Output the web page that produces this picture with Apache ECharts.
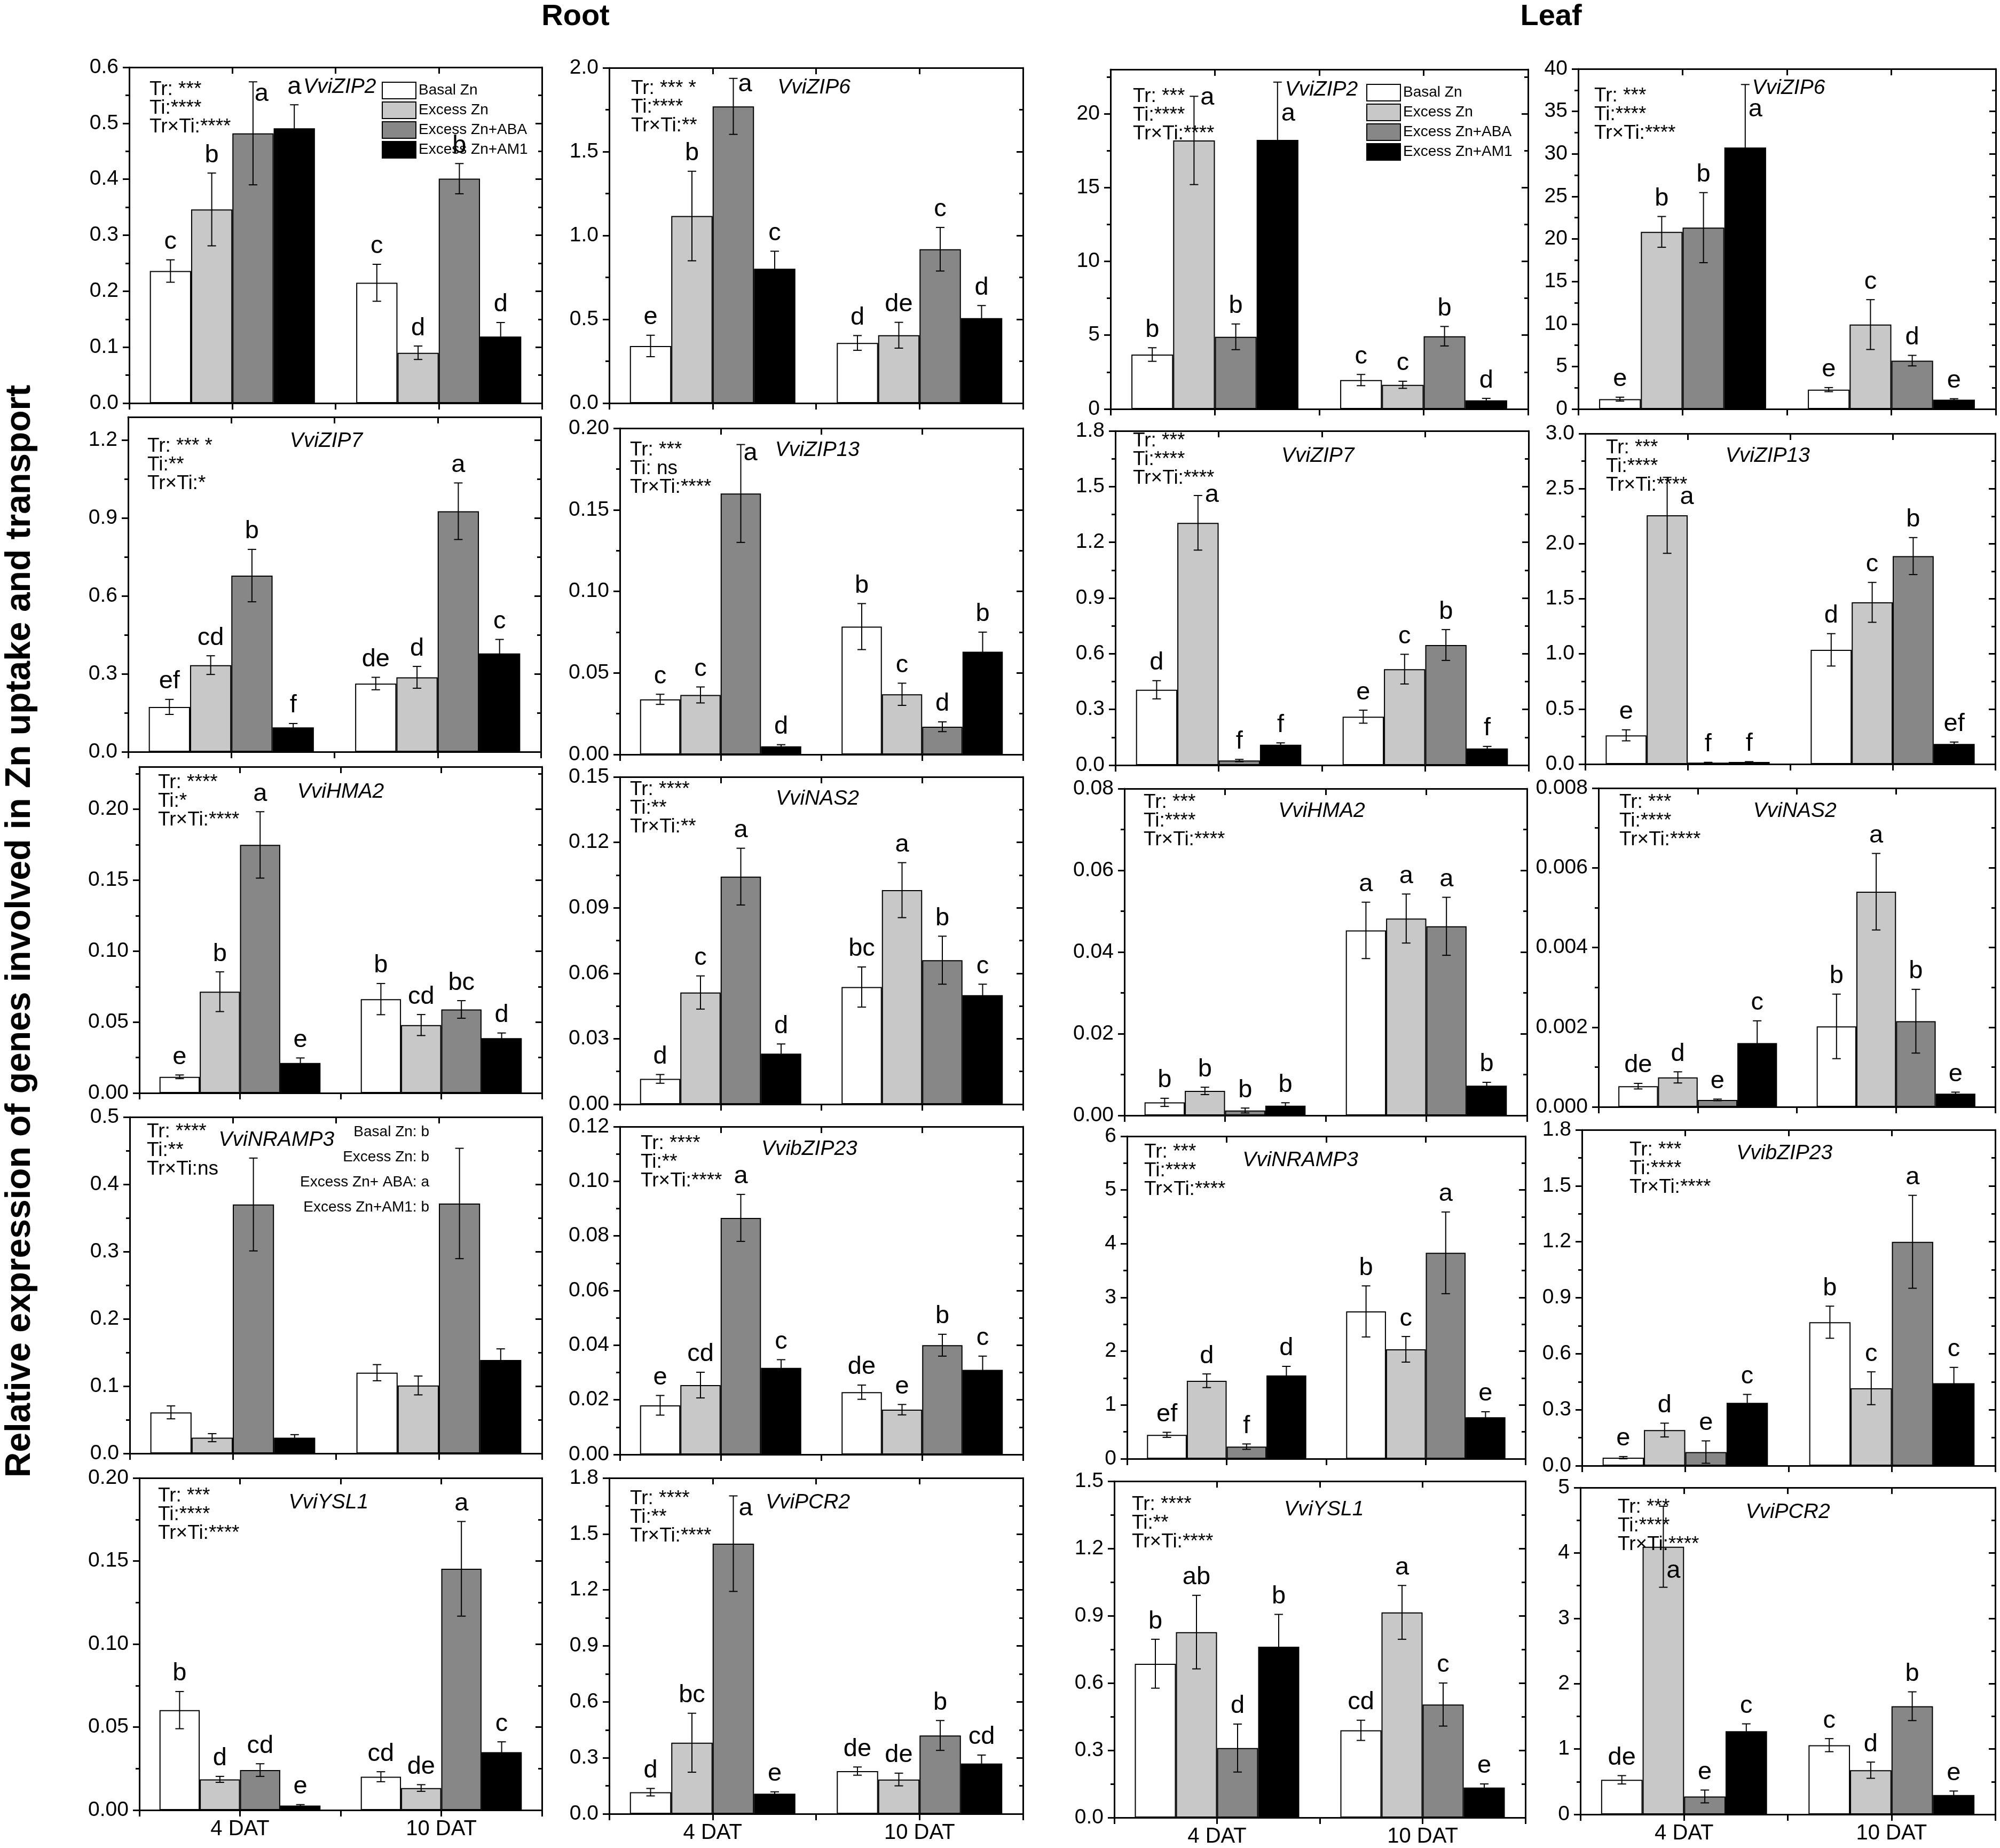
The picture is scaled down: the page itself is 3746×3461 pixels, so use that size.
<!DOCTYPE html>
<html>
<head>
<meta charset="utf-8">
<script src="https://cdn.jsdelivr.net/npm/echarts@6/dist/echarts.min.js"></script>
<style>
  html, body { margin: 0; padding: 0; background: #fff; }
  #chart { width: 3746px; height: 3461px; }
</style>
</head>
<body>
<div id="chart"></div>
<script>
const FONT = '"Liberation Sans", Arial, sans-serif';
const TREATMENTS = ["Basal Zn", "Excess Zn", "Excess Zn+ABA", "Excess Zn+AM1"];
const COLORS = ["#ffffff", "#c8c8c8", "#878787", "#000000"];
const DAYS = ["4 DAT", "10 DAT"];

// panels in reading order: root, root, leaf, leaf on each row
const genes = [
    "VviZIP2", "VviZIP6", "VviZIP2", "VviZIP6",
    "VviZIP7", "VviZIP13", "VviZIP7", "VviZIP13",
    "VviHMA2", "VviNAS2", "VviHMA2", "VviNAS2",
    "VviNRAMP3", "VvibZIP23", "VviNRAMP3", "VvibZIP23",
    "VviYSL1", "VviPCR2", "VviYSL1", "VviPCR2",
];

// means per panel: [4 DAT, 10 DAT]
const basalZn = [
    [0.236, 0.215], [0.341, 0.359], [3.69, 1.96], [1.16, 2.28],
    [0.173, 0.263], [0.0338, 0.0784], [0.406, 0.261], [0.261, 1.037],
    [0.0114, 0.0662], [0.0116, 0.0537], [0.0032, 0.0453], [0.00052, 0.00202],
    [0.061, 0.120], [0.0180, 0.0228], [0.445, 2.741], [0.043, 0.769],
    [0.0602, 0.0201], [0.116, 0.229], [0.686, 0.389], [0.529, 1.059],
];
const excessZn = [
    [0.346, 0.090], [1.116, 0.405], [18.19, 1.64], [20.83, 9.93],
    [0.334, 0.287], [0.0365, 0.0369], [1.305, 0.517], [2.258, 1.468],
    [0.0714, 0.0479], [0.0512, 0.0981], [0.0060, 0.0482], [0.00074, 0.0054],
    [0.0234, 0.101], [0.0254, 0.0164], [1.451, 2.036], [0.191, 0.415],
    [0.0185, 0.0133], [0.381, 0.184], [0.827, 0.915], [4.095, 0.676],
];
const excessZnAba = [
    [0.482, 0.401], [1.770, 0.918], [4.89, 4.93], [21.33, 5.69],
    [0.679, 0.927], [0.160, 0.0170], [0.025, 0.647], [0.013, 1.888],
    [0.1749, 0.0589], [0.1043, 0.0660], [0.0012, 0.0463], [0.000175, 0.00215],
    [0.370, 0.3715], [0.0866, 0.0400], [0.225, 3.831], [0.073, 1.200],
    [0.0241, 0.1453], [1.448, 0.420], [0.310, 0.504], [0.274, 1.655],
];
const excessZnAm1 = [
    [0.491, 0.119], [0.802, 0.507], [18.23, 0.59], [30.76, 1.10],
    [0.094, 0.379], [0.0050, 0.0630], [0.110, 0.090], [0.019, 0.183],
    [0.0212, 0.0387], [0.0232, 0.0500], [0.0024, 0.0073], [0.0016, 0.00033],
    [0.0234, 0.1389], [0.0317, 0.0310], [1.549, 0.772], [0.337, 0.442],
    [0.0027, 0.0349], [0.108, 0.270], [0.762, 0.134], [1.273, 0.297],
];

// error bar half lengths, same layout
const basalErr = [
    [0.020, 0.033], [0.064, 0.044], [0.46, 0.38], [0.23, 0.24],
    [0.029, 0.024], [0.0031, 0.0141], [0.049, 0.035], [0.050, 0.147],
    [0.0013, 0.011], [0.0020, 0.0092], [0.0010, 0.0069], [0.00007, 0.00081],
    [0.0096, 0.012], [0.0036, 0.0026], [0.047, 0.475], [0.006, 0.086],
    [0.0112, 0.0030], [0.020, 0.022], [0.109, 0.045], [0.064, 0.100],
];
const excessErr = [
    [0.065, 0.012], [0.267, 0.077], [2.99, 0.24], [1.81, 2.93],
    [0.036, 0.042], [0.0049, 0.0068], [0.147, 0.080], [0.345, 0.181],
    [0.0140, 0.0074], [0.0076, 0.0126], [0.0009, 0.0060], [0.00014, 0.00096],
    [0.0060, 0.014], [0.0047, 0.0019], [0.127, 0.238], [0.037, 0.088],
    [0.0018, 0.0020], [0.158, 0.034], [0.164, 0.120], [0.62, 0.124],
];
const abaErr = [
    [0.092, 0.027], [0.167, 0.130], [0.87, 0.66], [4.12, 0.62],
    [0.101, 0.109], [0.030, 0.0030], [0.006, 0.083], [0.003, 0.168],
    [0.0234, 0.0062], [0.0130, 0.0110], [0.0006, 0.0071], [0.00002, 0.00080],
    [0.069, 0.082], [0.0086, 0.0040], [0.050, 0.760], [0.060, 0.249],
    [0.0038, 0.0285], [0.256, 0.080], [0.107, 0.096], [0.098, 0.220],
];
const am1Err = [
    [0.042, 0.025], [0.104, 0.075], [3.91, 0.13], [7.40, 0.11],
    [0.015, 0.054], [0.0010, 0.012], [0.010, 0.011], [0.003, 0.017],
    [0.0035, 0.0036], [0.0044, 0.0050], [0.0007, 0.0008], [0.00056, 0.00004],
    [0.0045, 0.0165], [0.0030, 0.0050], [0.170, 0.102], [0.045, 0.085],
    [0.0006, 0.0062], [0.010, 0.045], [0.144, 0.016], [0.112, 0.060],
];

// significance letters: 4 DAT bars, then 10 DAT bars
const letters = [
    ["c", "b", "a", "a", "c", "d", "b", "d"],
    ["e", "b", "a", "c", "d", "de", "c", "d"],
    ["b", "a", "b", "a", "c", "c", "b", "d"],
    ["e", "b", "b", "a", "e", "c", "d", "e"],
    ["ef", "cd", "b", "f", "de", "d", "a", "c"],
    ["c", "c", "a", "d", "b", "c", "d", "b"],
    ["d", "a", "f", "f", "e", "c", "b", "f"],
    ["e", "a", "f", "f", "d", "c", "b", "ef"],
    ["e", "b", "a", "e", "b", "cd", "bc", "d"],
    ["d", "c", "a", "d", "bc", "a", "b", "c"],
    ["b", "b", "b", "b", "a", "a", "a", "b"],
    ["de", "d", "e", "c", "b", "a", "b", "e"],
    ["", "", "", "", "", "", "", ""],
    ["e", "cd", "a", "c", "de", "e", "b", "c"],
    ["ef", "d", "f", "d", "b", "c", "a", "e"],
    ["e", "d", "e", "c", "b", "c", "a", "c"],
    ["b", "d", "cd", "e", "cd", "de", "a", "c"],
    ["d", "bc", "a", "e", "de", "de", "b", "cd"],
    ["b", "ab", "d", "b", "cd", "a", "c", "e"],
    ["de", "a", "e", "c", "c", "d", "b", "e"],
];

const stats = [
    ["Tr: ***", "Ti:****", "Tr×Ti:****"],
    ["Tr: *** *", "Ti:****", "Tr×Ti:**"],
    ["Tr: ***", "Ti:****", "Tr×Ti:****"],
    ["Tr: ***", "Ti:****", "Tr×Ti:****"],
    ["Tr: *** *", "Ti:**", "Tr×Ti:*"],
    ["Tr: ***", "Ti: ns", "Tr×Ti:****"],
    ["Tr: ***", "Ti:****", "Tr×Ti:****"],
    ["Tr: ***", "Ti:****", "Tr×Ti:****"],
    ["Tr: ****", "Ti:*", "Tr×Ti:****"],
    ["Tr: ****", "Ti:**", "Tr×Ti:**"],
    ["Tr: ***", "Ti:****", "Tr×Ti:****"],
    ["Tr: ***", "Ti:****", "Tr×Ti:****"],
    ["Tr: ****", "Ti:**", "Tr×Ti:ns"],
    ["Tr: ****", "Ti:**", "Tr×Ti:****"],
    ["Tr: ***", "Ti:****", "Tr×Ti:****"],
    ["Tr: ***", "Ti:****", "Tr×Ti:****"],
    ["Tr: ***", "Ti:****", "Tr×Ti:****"],
    ["Tr: ****", "Ti:**", "Tr×Ti:****"],
    ["Tr: ****", "Ti:**", "Tr×Ti:****"],
    ["Tr: ***", "Ti:****", "Tr×Ti:****"],
];
const nrampGroups = ["Basal Zn: b", "Excess Zn: b", "Excess Zn+ ABA: a", "Excess Zn+AM1: b"];

const yMax = [0.6, 2.0, 23, 40, 1.29, 0.2, 1.8, 3.0, 0.23, 0.15, 0.08, 0.008, 0.5, 0.12, 6, 1.8, 0.2, 1.8, 1.5, 5];
const yStep = [0.1, 0.5, 5, 5, 0.3, 0.05, 0.3, 0.5, 0.05, 0.03, 0.02, 0.002, 0.1, 0.02, 1, 0.3, 0.05, 0.3, 0.3, 1];
const yDecimals = [1, 1, 0, 0, 1, 2, 1, 1, 2, 2, 2, 3, 1, 2, 0, 1, 2, 1, 1, 0];

// layout: plot boxes [left, top, right, bottom] in px
const boxes = [
    [242, 126, 1015, 755], [1141, 127, 1916, 755], [2080, 130, 2862, 766], [2956, 129, 3738, 766],
    [240, 781, 1013, 1408], [1161, 802, 1916, 1413], [2089, 807, 2863, 1433], [2969, 812, 3737, 1431],
    [261, 1436, 1015, 2047], [1161, 1455, 1916, 2068], [2106, 1477, 2860, 2089], [2994, 1476, 3737, 2073],
    [243, 2092, 1015, 2722], [1161, 2110, 1916, 2724], [2111, 2128, 2857, 2732], [2963, 2116, 3737, 2745],
    [261, 2768, 1015, 3390], [1141, 2768, 1916, 3397], [2087, 2774, 2857, 3404], [2960, 2786, 3737, 3398],
];
// stats text offset from box corner, gene label (fraction of width, offset from top)
const statPos = [
    [38, 42], [41, 39], [42, 51], [30, 51], [36, 55], [19, 41], [33, 19], [39, 27], [35, 30], [19, 24],
    [36, 26], [39, 27], [32, 28], [39, 32], [32, 30], [89, 38], [35, 34], [39, 39], [33, 44], [70, 37],
];
const genePos = [
    [0.51, 37], [0.495, 37], [0.505, 38], [0.504, 36], [0.48, 45], [0.49, 41], [0.49, 47], [0.445, 42],
    [0.50, 47], [0.49, 41], [0.49, 42], [0.495, 43], [0.356, 43], [0.47, 42], [0.435, 45], [0.49, 44],
    [0.47, 46], [0.48, 46], [0.51, 53], [0.50, 46],
];
// letters that sit beside the error bar instead of above it: panel-series-group -> [dx, dy]
const nudges = {
    "0-2-0": [16, 56], "1-2-0": [22, 45], "2-1-0": [25, 36], "2-3-0": [20, 93], "3-3-0": [19, 80],
    "5-2-0": [18, 50], "6-1-0": [26, 33], "7-1-0": [37, 71], "17-2-0": [23, 57], "19-1-0": [19, 155],
};

const means = [basalZn, excessZn, excessZnAba, excessZnAm1];
const errs = [basalErr, excessErr, abaErr, am1Err];

function errorItem(p, g, s, api) {
    const v = means[s][p][g];
    const e = errs[s][p][g];
    const bw = api.size([1, 0])[0] * 0.2;
    const x = api.coord([g, 0])[0] + (s - 1.5) * bw;
    const yTop = api.coord([g, v + e])[1];
    const yLow = api.coord([g, Math.max(v - e, 0)])[1];
    const st = { stroke: "#000", lineWidth: 2 };
    const children = [
        { type: "line", shape: { x1: x, y1: yTop, x2: x, y2: yLow }, style: st },
        { type: "line", shape: { x1: x - 8, y1: yTop, x2: x + 8, y2: yTop }, style: st },
        { type: "line", shape: { x1: x - 8, y1: yLow, x2: x + 8, y2: yLow }, style: st },
    ];
    const letter = letters[p][g * 4 + s];
    if (letter) {
        const [dx, dy] = nudges[`${p}-${s}-${g}`] || [0, 0];
        children.push({
            type: "text",
            style: {
                text: letter, x: x + dx, y: yTop - 10 + dy, align: "center", verticalAlign: "bottom",
                fontSize: 47, fontFamily: FONT, fill: "#000",
            },
        });
    }
    return { type: "group", children };
}

const grid = [], xAxis = [], yAxis = [], series = [], graphic = [];
const frame = { show: true, onZero: false, lineStyle: { color: "#000", width: 3 } };
const noLine = { show: false, onZero: false };
const tickStyle = { color: "#000", width: 3 };

boxes.forEach(([l, t, r, b], p) => {
    grid.push({ left: l, top: t, width: r - l, height: b - t });

    const majors = [], minors = [];
    for (let k = 0; k * yStep[p] <= yMax[p] + 1e-9; k++) majors.push(+(k * yStep[p]).toFixed(6));
    for (let k = 0; (k + 0.5) * yStep[p] <= yMax[p] + 1e-9; k++) minors.push(+((k + 0.5) * yStep[p]).toFixed(6));

    xAxis.push({
        type: "category", gridIndex: p, data: DAYS, position: "bottom", axisLine: frame,
        axisTick: { show: false }, splitLine: { show: false },
        axisLabel: { show: p >= 16, fontSize: 40, fontFamily: FONT, color: "#000", margin: 16 },
    });
    xAxis.push({
        type: "value", gridIndex: p, min: 0, max: 4, interval: 1, position: "bottom", axisLine: noLine,
        axisTick: { show: true, length: 12, lineStyle: tickStyle }, axisLabel: { show: false }, splitLine: { show: false },
    });
    xAxis.push({
        type: "value", gridIndex: p, min: 0, max: 4, interval: 1, position: "top", axisLine: frame,
        axisTick: { show: true, inside: true, length: 12, lineStyle: tickStyle }, axisLabel: { show: false }, splitLine: { show: false },
    });

    const yBase = { type: "value", gridIndex: p, min: 0, max: yMax[p], interval: yStep[p], splitLine: { show: false } };
    yAxis.push({
        ...yBase, position: "left", axisLine: frame,
        axisTick: { show: true, length: 12, lineStyle: tickStyle, customValues: majors },
        axisLabel: {
            show: true, customValues: majors, formatter: (v) => v.toFixed(yDecimals[p]),
            fontSize: 39, fontFamily: FONT, color: "#000", margin: 20,
        },
    });
    yAxis.push({
        ...yBase, position: "left", axisLine: noLine,
        axisTick: { show: true, length: 7, lineStyle: tickStyle, customValues: minors }, axisLabel: { show: false },
    });
    yAxis.push({
        ...yBase, position: "right", axisLine: frame,
        axisTick: { show: true, inside: true, length: 12, lineStyle: tickStyle, customValues: majors }, axisLabel: { show: false },
    });
    yAxis.push({
        ...yBase, position: "right", axisLine: noLine,
        axisTick: { show: true, inside: true, length: 7, lineStyle: tickStyle, customValues: minors }, axisLabel: { show: false },
    });

    TREATMENTS.forEach((name, s) => {
        series.push({
            name, type: "bar", xAxisIndex: p * 3, yAxisIndex: p * 4, data: means[s][p],
            barGap: "0%", barCategoryGap: "20%",
            itemStyle: { color: COLORS[s], borderColor: "#000", borderWidth: 2 },
            emphasis: { disabled: true }, silent: true,
        });
    });
    series.push({
        type: "custom", xAxisIndex: p * 3, yAxisIndex: p * 4, z: 5, silent: true,
        data: [[0, 0], [0, 1], [0, 2], [0, 3], [1, 0], [1, 1], [1, 2], [1, 3]],
        renderItem: (params, api) => errorItem(p, api.value(0), api.value(1), api),
    });

    const [sx, sy] = statPos[p];
    stats[p].forEach((line, i) => {
        graphic.push({
            type: "text", z: 100,
            style: { text: line, x: l + sx, y: t + sy + i * 35, verticalAlign: "middle", fontSize: 37, fontFamily: FONT, fill: "#000" },
        });
    });
    const [gx, gy] = genePos[p];
    graphic.push({
        type: "text", z: 100,
        style: {
            text: genes[p], x: l + gx * (r - l), y: t + gy, align: "center", verticalAlign: "middle",
            fontSize: 39, fontStyle: "italic", fontFamily: FONT, fill: "#000",
        },
    });
});

// group letters written inside the root NRAMP3 panel
nrampGroups.forEach((line, i) => {
    graphic.push({
        type: "text", z: 100,
        style: {
            text: line, x: boxes[12][0] + 561, y: boxes[12][1] + 28 + i * 47, align: "right", verticalAlign: "middle",
            fontSize: 28, fontFamily: FONT, fill: "#000",
        },
    });
});

graphic.push(
    { type: "text", style: { text: "Root", x: 1078, y: 32, align: "center", verticalAlign: "middle", fontSize: 56, fontWeight: "bold", fontFamily: FONT, fill: "#000" } },
    { type: "text", style: { text: "Leaf", x: 2905, y: 32, align: "center", verticalAlign: "middle", fontSize: 56, fontWeight: "bold", fontFamily: FONT, fill: "#000" } },
    {
        type: "text", x: 38, y: 1744, rotation: Math.PI / 2,
        style: {
            text: "Relative expression of genes involved in Zn uptake and transport", x: 0, y: 0,
            align: "center", verticalAlign: "middle", fontSize: 66, fontWeight: "bold", fontFamily: FONT, fill: "#000",
        },
    },
);

const legendBase = {
    data: TREATMENTS, orient: "vertical", icon: "rect", itemWidth: 63, itemHeight: 31, itemGap: 4,
    selectedMode: false, textStyle: { fontSize: 28, fontFamily: FONT, color: "#000" },
};

const chart = echarts.init(document.getElementById("chart"));
chart.setOption({
    animation: false,
    backgroundColor: "#fff",
    grid, xAxis, yAxis, series, graphic,
    legend: [
        { ...legendBase, left: 710, top: 148 },
        { ...legendBase, left: 2554, top: 152 },
    ],
});
</script>
</body>
</html>
